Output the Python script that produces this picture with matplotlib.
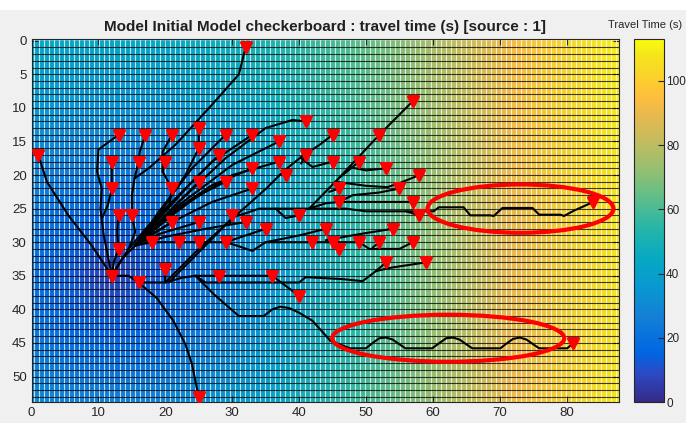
import matplotlib.pyplot as plt
import numpy as np
from matplotlib.colors import LinearSegmentedColormap
from matplotlib.markers import MarkerStyle
from matplotlib.patches import Ellipse, Rectangle

plt.rcParams['font.family'] = ['Liberation Sans', 'DejaVu Sans']

# travel time field (s), read at a coarse set of nodes
tt_x = [0, 6, 12, 18, 26, 36, 48, 60, 72, 88]
tt_y = [0, 9, 18, 27, 35, 44, 54]
travel_time = [
    [44, 43, 43, 44, 46, 52, 62, 76, 93, 110],
    [37, 35, 34, 35, 39, 47, 59, 75, 92, 109],
    [29, 26, 25, 26, 31, 41, 56, 73, 91, 108],
    [22, 17, 14, 17, 25, 37, 54, 72, 90, 107],
    [19, 12, 5, 12, 22, 35, 53, 71, 90, 107],
    [23, 18, 16, 18, 25, 37, 54, 72, 90, 107],
    [31, 28, 27, 28, 33, 42, 57, 73, 91, 108],
]

# receivers (red markers)
rec_x = [32, 57, 41, 1, 13, 17, 21, 25, 29, 33, 37, 45, 52,
         12, 16, 20, 25, 28, 33, 37, 41, 45, 49, 53, 58, 38,
         12, 21, 25, 29, 33, 46, 55, 46, 57, 84,
         13, 15, 30, 40, 58, 21, 25, 32, 35, 44, 54,
         13, 18, 22, 25, 29, 42, 45, 46, 49, 52, 57,
         12, 16, 20, 28, 36, 40, 53, 59, 25, 81]
rec_y = [1, 9, 12, 17, 14, 14, 14, 13, 14, 14, 15, 14, 14,
         18, 18, 18, 16, 17, 19, 18, 17, 18, 18, 19, 20, 20,
         22, 22, 21, 21, 22, 22, 22, 24, 24, 24,
         26, 26, 26, 26, 26, 27, 27, 27, 28, 28, 28,
         31, 30, 30, 30, 30, 30, 30, 31, 30, 30, 30,
         35, 36, 34, 35, 35, 38, 33, 33, 53, 45]

# ray paths (x, y) waypoints
rays = [
    # left side
    [(1, 17), (2.3, 21), (5.5, 26), (9, 30.5), (12, 35)],
    [(13, 14), (10, 16.2), (9.8, 19.5), (10.5, 22), (10.3, 25), (10.8, 29), (12, 35)],
    [(12, 18), (12, 22), (11.4, 24.5), (10.5, 26.5)],
    [(13, 26), (12.8, 28.5), (13, 31), (12.3, 33), (12, 35)],
    [(17, 14), (16.2, 16.5), (16, 18), (15.4, 20.5), (15, 23), (15, 26), (15.5, 28.5), (14.5, 31), (12, 35)],
    [(32, 1), (31.5, 3), (31, 5), (27, 9.5), (21.5, 15.5), (17.5, 19), (15.4, 20.5)],
    [(21, 14), (19.6, 16.5), (19.6, 19.5), (21, 22), (20.6, 24.5), (17.5, 27.5), (14.5, 31)],
    [(20, 18), (19.6, 19.5)],
    # fan towards upper right
    [(12, 35), (13.5, 32.5), (15.5, 30.5)],
    [(15.5, 30.5), (20, 26), (25, 21)],
    [(15.5, 30.5), (21, 26), (25, 23), (29, 21)],
    [(15.5, 30.5), (21, 27), (27, 24), (33, 22)],
    [(15.5, 30.5), (19.5, 26), (24, 21), (28, 17)],
    [(15.5, 30.5), (19, 26), (23, 20), (25, 16), (25, 13)],
    [(15.5, 30.5), (21, 25.5), (27, 21.5), (33, 19)],
    [(15.5, 30.5), (22, 25), (30, 20), (37, 18)],
    [(15.5, 30.5), (22, 24.5), (30, 18.5), (37, 15)],
    [(15.5, 30.5), (19, 25.5), (24, 19), (29, 14)],
    [(15.5, 30.5), (20, 25), (27, 18), (33, 14)],
    [(15.5, 30.5), (22, 24), (29, 17.5), (35, 13), (39, 11.8), (41, 12)],
    [(15.5, 30.5), (18, 30), (22, 30), (25, 30), (29, 30)],
    [(15.5, 30.5), (18, 28.8), (21, 27)],
    [(15.5, 30.5), (19, 28.8), (25, 27)],
    [(15.5, 30.5), (20, 29.2), (26, 28), (32, 27)],
    [(29, 30), (31, 30.6), (33, 31.3), (35, 30), (42, 30), (45, 30), (46, 31)],
    [(35, 30), (40, 29), (44, 28)],
    [(29, 30), (32, 29), (35, 28)],
    # lower trunk and main diagonal
    [(12, 35), (14.5, 35), (16, 36), (20, 36), (22.5, 35.3), (24.5, 35), (36, 35), (40, 38)],
    [(20, 34), (20, 36)],
    [(28, 35), (28, 36)],
    [(24.5, 35), (26, 36), (40, 36), (41, 35.2), (46.5, 35.5), (49.5, 35.8), (51.5, 34.3), (53, 33)],
    [(51.5, 34.3), (53.7, 33.8), (59, 33)],
    [(16, 36), (18.7, 38.3), (21.2, 41.7), (23, 45.2), (24, 48.2), (24.7, 51.7), (25, 53)],
    [(24.5, 35), (27.2, 37.7), (31, 41), (34.7, 41), (36, 40), (37.2, 39.6), (38.5, 39.8), (40, 40.5),
     (42, 41.7), (44.7, 44.7), (47.6, 45.8), (50, 45.8), (51, 45), (52, 44.3), (53, 44.2), (54, 44.5),
     (55, 45.2), (55.9, 45.8), (59.9, 45.8), (61, 45), (62, 44.3), (63, 44.2), (64, 44.5), (65, 45.2),
     (65.9, 45.8), (70.1, 45.8), (71, 45.1), (72, 44.4), (73, 44.2), (74, 44.5), (75, 45.2), (75.9, 45.8),
     (80.1, 45.8), (81, 45)],
    [(20, 36), (25, 31), (30, 26.5), (32.5, 24.3), (35.2, 21.9), (37.7, 19.4), (40.2, 17.4),
     (43.2, 15.4), (45, 14)],
    [(20.5, 36), (25.5, 31), (30.2, 26.2), (32, 25.7), (34, 25), (41.5, 25), (47, 25), (50, 25.4),
     (60.1, 25.4), (60.9, 24.8), (64.6, 24.8), (65.6, 26), (68.6, 26), (69.1, 26.1), (70.4, 24.9),
     (74.9, 24.9), (75.9, 25.9), (79.1, 25.9), (79.6, 26.1), (81.1, 25.3), (84, 24)],
    [(41.5, 25), (46, 20.4), (52, 14), (57, 9)],
    # right branches
    [(46, 20.4), (49, 18)],
    [(47.5, 18.8), (50, 19.3), (53, 19)],
    [(45.5, 21), (50, 21.6), (53.2, 21.8), (55, 21.2), (58, 20)],
    [(44.5, 22.5), (46, 22)],
    [(41.5, 25), (44, 24.2), (46, 24), (57, 24)],
    [(46, 24), (48, 23), (52, 22.6), (55, 22)],
    [(56, 25.4), (58, 26)],
    [(44, 29.7), (49, 28.8), (54, 28)],
    [(45, 30), (49, 30), (50.5, 31), (55, 31), (57, 30)],
    [(51, 30.8), (52, 30)],
    [(36.5, 25), (38, 26.4), (40, 26)],
    [(29.6, 27.3), (30, 26)],
    [(40.3, 18.3), (41, 17)],
    [(40.2, 17.4), (42, 18.8), (45, 18)],
]

# highlighted areas (centre x, centre y, width, height)
ellipses = [(73.1, 25.0, 27.8, 7.2), (62.3, 44.3, 34.7, 7.0)]

# parula-like colormap
parula = [(0.2081, 0.1663, 0.5292), (0.1707, 0.2919, 0.7792), (0.0117, 0.3875, 0.8820),
          (0.0165, 0.4266, 0.8786), (0.0779, 0.5040, 0.8384), (0.0343, 0.5966, 0.8199),
          (0.0267, 0.6642, 0.7607), (0.1453, 0.7098, 0.6646), (0.3482, 0.7424, 0.5473),
          (0.5709, 0.7485, 0.4494), (0.7525, 0.7384, 0.3768), (0.9139, 0.7258, 0.3063),
          (0.9938, 0.7455, 0.2403), (0.9955, 0.7861, 0.1967), (0.9589, 0.8949, 0.1132),
          (0.9763, 0.9831, 0.0538)]
idx = [0, 5, 8, 10, 15, 20, 25, 30, 35, 40, 45, 50, 53, 55, 60, 63]
cmap = LinearSegmentedColormap.from_list('parula', [(i / 63, c) for i, c in zip(idx, parula)])

fig = plt.figure(figsize=(6.86, 4.23), dpi=100, facecolor='#f0f0f0')
fig.patches.append(Rectangle((0, 0.976), 1, 0.024, transform=fig.transFigure,
                             facecolor='white', edgecolor='none', zorder=-1))
ax = fig.add_axes([0.046, 0.0496, 0.856, 0.858])

X, Y = np.meshgrid(tt_x, tt_y)
mesh = ax.pcolormesh(X, Y, np.array(travel_time), shading='gouraud', cmap=cmap, vmin=0, vmax=113)

# model grid lines
ax.vlines(np.arange(0.4, 88, 0.75), -1, 55, colors='white', lw=0.8, alpha=0.75)
ax.hlines(np.arange(1, 54), 0, 88, colors='black', lw=0.8, alpha=0.75)

for r in rays:
    xs, ys = zip(*r)
    ax.plot(xs, ys, color='black', lw=1.5, solid_capstyle='round', solid_joinstyle='round')

tri = MarkerStyle('v', joinstyle='round')
ax.plot(rec_x, rec_y, linestyle='none', marker=tri, color='red', ms=6.5, mec='red', mew=2.2, zorder=5)

for cx, cy, w, h in ellipses:
    ax.add_patch(Ellipse((cx, cy), w, h, fill=False, edgecolor='red', lw=3, zorder=6))

ax.set_xlim(0, 87.8)
ax.set_ylim(53.8, -0.25)
ax.set_xticks(range(0, 81, 10))
ax.set_yticks(range(0, 51, 5))
ax.tick_params(direction='in', top=True, right=True, labelsize=9.5, colors='#262626', length=4)
for s in ax.spines.values():
    s.set_color('#262626')
    s.set_linewidth(0.8)
ax.set_title('Model Initial Model checkerboard : travel time (s) [source : 1]',
             fontsize=11, fontweight='bold', color='#202020', pad=6)

cax = fig.add_axes([0.924, 0.0496, 0.044, 0.858])
cb = fig.colorbar(mesh, cax=cax, ticks=[0, 20, 40, 60, 80, 100])
cax.tick_params(direction='in', labelsize=8.5, colors='#262626', length=4, pad=1.5)
cb.outline.set_edgecolor('#262626')
fig.text(0.941, 0.94, 'Travel Time (s)', fontsize=8, color='#262626', ha='center', va='center')

fig.savefig('out.png', dpi=100, facecolor=fig.get_facecolor())
